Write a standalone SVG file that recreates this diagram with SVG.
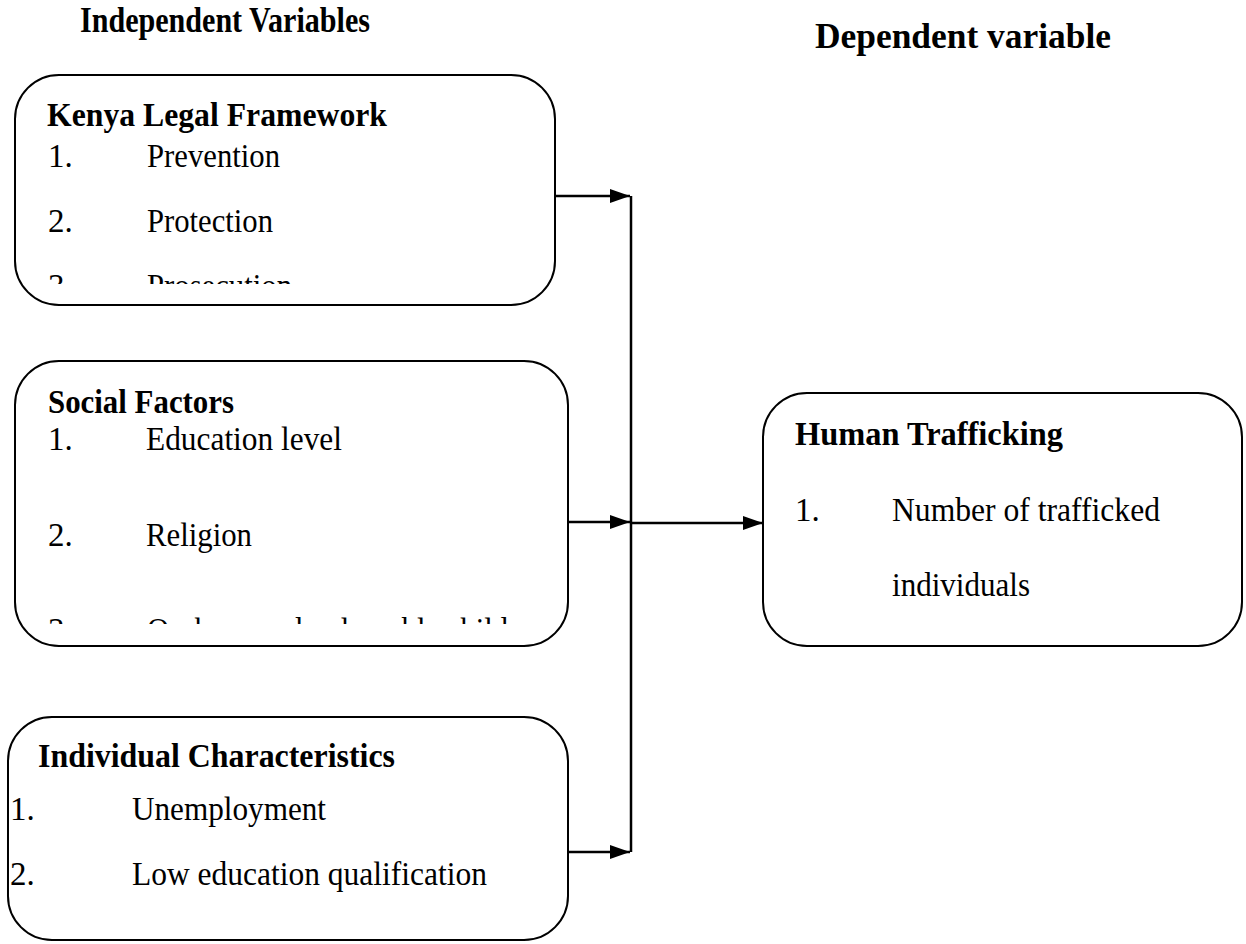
<svg xmlns="http://www.w3.org/2000/svg" width="1246" height="944" viewBox="0 0 1246 944">
  <style>
    text { font-family: "Liberation Serif", "Times New Roman", serif; fill: #000; }
    .hdr { font-size: 36px; font-weight: bold; }
    .ttl { font-size: 33px; font-weight: bold; }
    .itm { font-size: 33px; }
    .box { fill: #fff; stroke: #000; stroke-width: 2; }
    .wire { fill: none; stroke: #000; stroke-width: 2.5; }
  </style>
  <defs>
    <marker id="arrow" viewBox="0 0 20 14" refX="20" refY="7" markerWidth="20" markerHeight="14" markerUnits="userSpaceOnUse" orient="auto">
      <path d="M0,0 L20,7 L0,14 Z" fill="#000"/>
    </marker>
    <!-- text frames that cut off the overflowing last item -->
    <clipPath id="clipLegal"><rect x="20" y="80" width="530" height="204"/></clipPath>
    <clipPath id="clipSocial"><rect x="20" y="365" width="540" height="259"/></clipPath>
  </defs>

  <rect width="1246" height="944" fill="#fff"/>

  <!-- column headings -->
  <text class="hdr" x="80" y="32" textLength="290" lengthAdjust="spacingAndGlyphs">Independent Variables</text>
  <text class="hdr" x="815" y="48" textLength="296" lengthAdjust="spacingAndGlyphs">Dependent variable</text>

  <!-- connectors -->
  <g id="connectors">
    <line class="wire" x1="631" y1="196" x2="631" y2="852"/>
    <line class="wire" x1="555" y1="196" x2="630" y2="196" marker-end="url(#arrow)"/>
    <line class="wire" x1="568" y1="522" x2="630" y2="522" marker-end="url(#arrow)"/>
    <line class="wire" x1="568" y1="852" x2="630" y2="852" marker-end="url(#arrow)"/>
    <line class="wire" x1="631" y1="523" x2="763" y2="523" marker-end="url(#arrow)"/>
  </g>

  <!-- independent variable: legal framework -->
  <g id="legal-framework">
    <rect class="box" x="15" y="75" width="540" height="230" rx="44" ry="44"/>
    <text class="ttl" x="47" y="126" textLength="340" lengthAdjust="spacingAndGlyphs">Kenya Legal Framework</text>
    <text class="itm" x="48" y="167">1.</text>
    <text class="itm" x="147" y="167" textLength="133" lengthAdjust="spacingAndGlyphs">Prevention</text>
    <text class="itm" x="48" y="232">2.</text>
    <text class="itm" x="147" y="232" textLength="126" lengthAdjust="spacingAndGlyphs">Protection</text>
    <g clip-path="url(#clipLegal)">
      <text class="itm" x="48" y="297">3.</text>
      <text class="itm" x="147" y="297" textLength="145" lengthAdjust="spacingAndGlyphs">Prosecution</text>
    </g>
  </g>

  <!-- independent variable: social factors -->
  <g id="social-factors">
    <rect class="box" x="15" y="361" width="553" height="285" rx="44" ry="44"/>
    <text class="ttl" x="48" y="413" textLength="186" lengthAdjust="spacingAndGlyphs">Social Factors</text>
    <text class="itm" x="48" y="450">1.</text>
    <text class="itm" x="146" y="450" textLength="196" lengthAdjust="spacingAndGlyphs">Education level</text>
    <text class="itm" x="48" y="546">2.</text>
    <text class="itm" x="146" y="546" textLength="106" lengthAdjust="spacingAndGlyphs">Religion</text>
    <g clip-path="url(#clipSocial)">
      <text class="itm" x="48" y="641">3.</text>
      <text class="itm" x="147" y="641" textLength="400" lengthAdjust="spacingAndGlyphs">Orphans and vulnerable children</text>
    </g>
  </g>

  <!-- independent variable: individual characteristics -->
  <g id="individual-characteristics">
    <rect class="box" x="8" y="717" width="560" height="223" rx="44" ry="44"/>
    <text class="ttl" x="38" y="767" textLength="357" lengthAdjust="spacingAndGlyphs">Individual Characteristics</text>
    <text class="itm" x="10" y="820">1.</text>
    <text class="itm" x="132" y="820" textLength="194" lengthAdjust="spacingAndGlyphs">Unemployment</text>
    <text class="itm" x="10" y="885">2.</text>
    <text class="itm" x="132" y="885" textLength="355" lengthAdjust="spacingAndGlyphs">Low education qualification</text>
  </g>

  <!-- dependent variable -->
  <g id="human-trafficking">
    <rect class="box" x="763" y="393" width="479" height="253" rx="44" ry="44"/>
    <text class="ttl" x="795" y="445" textLength="268" lengthAdjust="spacingAndGlyphs">Human Trafficking</text>
    <text class="itm" x="795" y="521">1.</text>
    <text class="itm" x="892" y="521" textLength="268" lengthAdjust="spacingAndGlyphs">Number of trafficked</text>
    <text class="itm" x="892" y="596" textLength="138" lengthAdjust="spacingAndGlyphs">individuals</text>
  </g>
</svg>
